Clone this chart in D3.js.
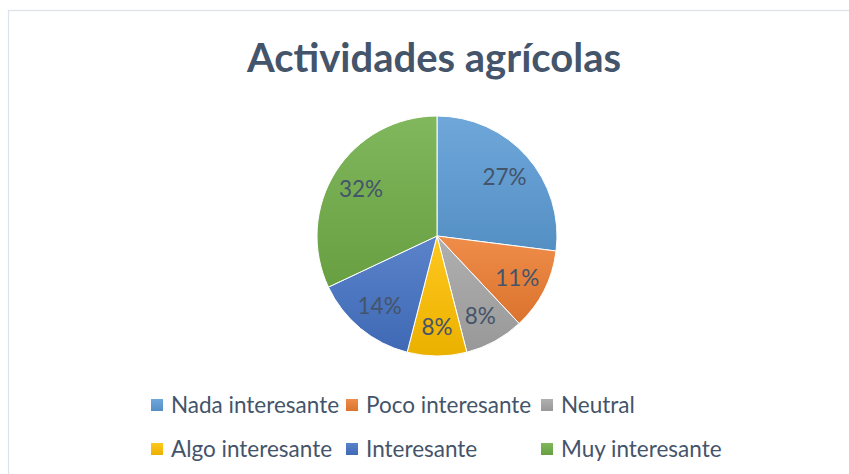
<!DOCTYPE html>
<html>
<head>
<meta charset="utf-8">
<script src="https://cdn.jsdelivr.net/npm/d3@7"></script>
<style>
  html, body { margin: 0; padding: 0; background: #ffffff; }
  svg { display: block; }
</style>
</head>
<body>
<svg id="chart" width="849" height="474"></svg>
<script>
// Survey answers for "Actividades agrícolas" (percent of respondents)
const categories = ["Nada interesante", "Poco interesante", "Neutral", "Algo interesante", "Interesante", "Muy interesante"];
const values = [27, 11, 8, 8, 14, 32];
const colors = ["#5B9BD5", "#ED7D31", "#A5A5A5", "#FFC000", "#4472C4", "#70AD47"];
const title = "Actividades agrícolas";

const W = 849, H = 474;
const textColor = "#44546A";
const font = "Lato, 'Open Sans', sans-serif";

const svg = d3.select("#chart");

// chart frame
svg.append("rect")
  .attr("x", 8.5).attr("y", 10.5)
  .attr("width", W + 10).attr("height", H + 10)
  .attr("fill", "#ffffff")
  .attr("stroke", "#DDE2EA").attr("stroke-width", 1.2);

// title
svg.append("text")
  .attr("x", 434).attr("y", 72)
  .attr("text-anchor", "middle")
  .attr("font-family", font)
  .attr("font-weight", 700)
  .attr("font-size", 40)
  .attr("fill", textColor)
  .text(title);

// slice gradients: light at the top, deeper at the bottom
const defs = svg.append("defs");
colors.forEach((c, i) => {
  const g = defs.append("linearGradient")
    .attr("id", "grad" + i)
    .attr("x1", 0).attr("y1", 0).attr("x2", 0).attr("y2", 1);
  g.append("stop").attr("offset", "0%").attr("stop-color", d3.interpolateRgb(c, "#ffffff")(0.12));
  g.append("stop").attr("offset", "100%").attr("stop-color", d3.interpolateRgb(c, "#000000")(0.08));
});

const cx = 437, cy = 236, r = 120;
const pie = d3.pie().sort(null).value(d => d.value);
const arcs = pie(categories.map((c, i) => ({ name: c, value: values[i], idx: i })));
const arc = d3.arc().innerRadius(0).outerRadius(r);
const labelArc = d3.arc().innerRadius(r * 0.75).outerRadius(r * 0.75);

const g = svg.append("g").attr("transform", `translate(${cx},${cy})`);

g.selectAll("path.slice")
  .data(arcs)
  .join("path")
  .attr("class", "slice")
  .attr("d", arc)
  .attr("fill", d => `url(#grad${d.data.idx})`)
  .attr("stroke", "#ffffff")
  .attr("stroke-width", 1);

g.selectAll("text.pct")
  .data(arcs)
  .join("text")
  .attr("class", "pct")
  .attr("transform", d => `translate(${labelArc.centroid(d)})`)
  .attr("text-anchor", "middle")
  .attr("dy", "0.4em")
  .attr("font-family", font)
  .attr("font-size", 22.5)
  .attr("fill", textColor)
  .text(d => d.data.value + "%");

// legend: three columns, two rows
const legX0 = 151, colW = 195, rowY0 = 405, rowH = 44, box = 12;
const leg = svg.append("g")
  .selectAll("g")
  .data(categories)
  .join("g")
  .attr("transform", (d, i) => `translate(${legX0 + (i % 3) * colW},${rowY0 + Math.floor(i / 3) * rowH})`);

leg.append("rect")
  .attr("x", 0).attr("y", -box / 2)
  .attr("width", box).attr("height", box)
  .attr("fill", (d, i) => `url(#grad${i})`);

leg.append("text")
  .attr("x", 20).attr("y", 0)
  .attr("dy", "0.36em")
  .attr("font-family", font)
  .attr("font-size", 22.5)
  .attr("fill", textColor)
  .text(d => d);
</script>
</body>
</html>
